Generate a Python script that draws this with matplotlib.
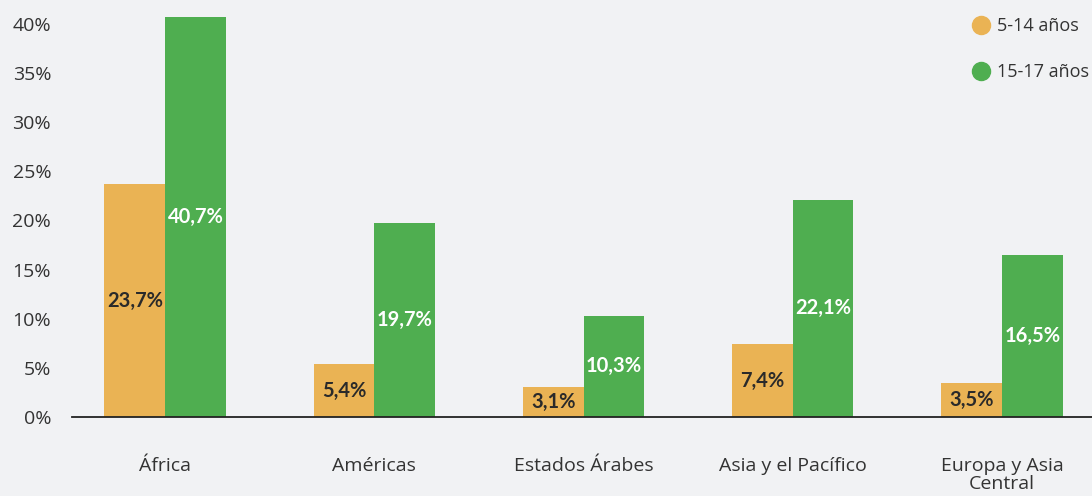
import matplotlib
matplotlib.use("Agg")
import matplotlib.pyplot as plt
from matplotlib.lines import Line2D
import numpy as np

categories = ["África", "Américas", "Estados Árabes", "Asia y el Pacífico", "Europa y Asia\nCentral"]
series_names = ["5-14 años", "15-17 años"]
values_5_14 = [23.7, 5.4, 3.1, 7.4, 3.5]
values_15_17 = [40.7, 19.7, 10.3, 22.1, 16.5]
yticks = [0, 5, 10, 15, 20, 25, 30, 35, 40]

c_orange = "#eab354"
c_green = "#4fae50"
bg = "#f1f2f4"
txt = "#333333"

plt.rcParams['font.family'] = ['Open Sans', 'DejaVu Sans']

fig = plt.figure(figsize=(10.92, 4.96), dpi=100, facecolor=bg)
ax = fig.add_axes([72/1092, 79/496, 1 - 72/1092, 417/496])
ax.set_facecolor(bg)

x = np.arange(len(categories))
w = 0.29
b1 = ax.bar(x - w/2, values_5_14, width=w, color=c_orange, zorder=2)
b2 = ax.bar(x + w/2, values_15_17, width=w, color=c_green, zorder=2)

def fmt(v):
    return f"{v:.1f}".replace(".", ",") + "%"

lab_font = ['Lato', 'DejaVu Sans']
for rect, v in zip(b1, values_5_14):
    ax.text(rect.get_x() + rect.get_width()/2, v/2, fmt(v), ha='center', va='center',
            fontsize=14.5, fontweight='bold', family=lab_font, color='#2a2a2a', zorder=3)
for rect, v in zip(b2, values_15_17):
    ax.text(rect.get_x() + rect.get_width()/2, v/2, fmt(v), ha='center', va='center',
            fontsize=14.5, fontweight='bold', family=lab_font, color='white', zorder=3)

ax.set_xlim(-0.445, 4.43)
ax.set_ylim(0, 42.44)
ax.set_yticks(yticks)
ax.set_yticklabels([f"{t}%" for t in yticks], fontsize=14, color=txt)
ax.set_xticks(x)
ax.set_xticklabels(categories, fontsize=14, color=txt, va='top', linespacing=0.95)
ax.tick_params(axis='both', length=0)
ax.tick_params(axis='y', pad=15)
ax.tick_params(axis='x', pad=29)
for s in ['top', 'right', 'left']:
    ax.spines[s].set_visible(False)
ax.spines['bottom'].set_color('#222222')
ax.spines['bottom'].set_linewidth(1.3)

handles = [Line2D([0], [0], marker='o', linestyle='none', markersize=13,
                  markerfacecolor=c, markeredgecolor=c) for c in (c_orange, c_green)]
leg = fig.legend(handles, series_names, loc='upper right', bbox_to_anchor=(1.013, 1.0),
                 frameon=False, fontsize=13, labelspacing=1.55, handletextpad=0.4,
                 borderaxespad=0.55, handlelength=1.0)
for t in leg.get_texts():
    t.set_color(txt)

fig.savefig("out.png", dpi=100, facecolor=bg)
